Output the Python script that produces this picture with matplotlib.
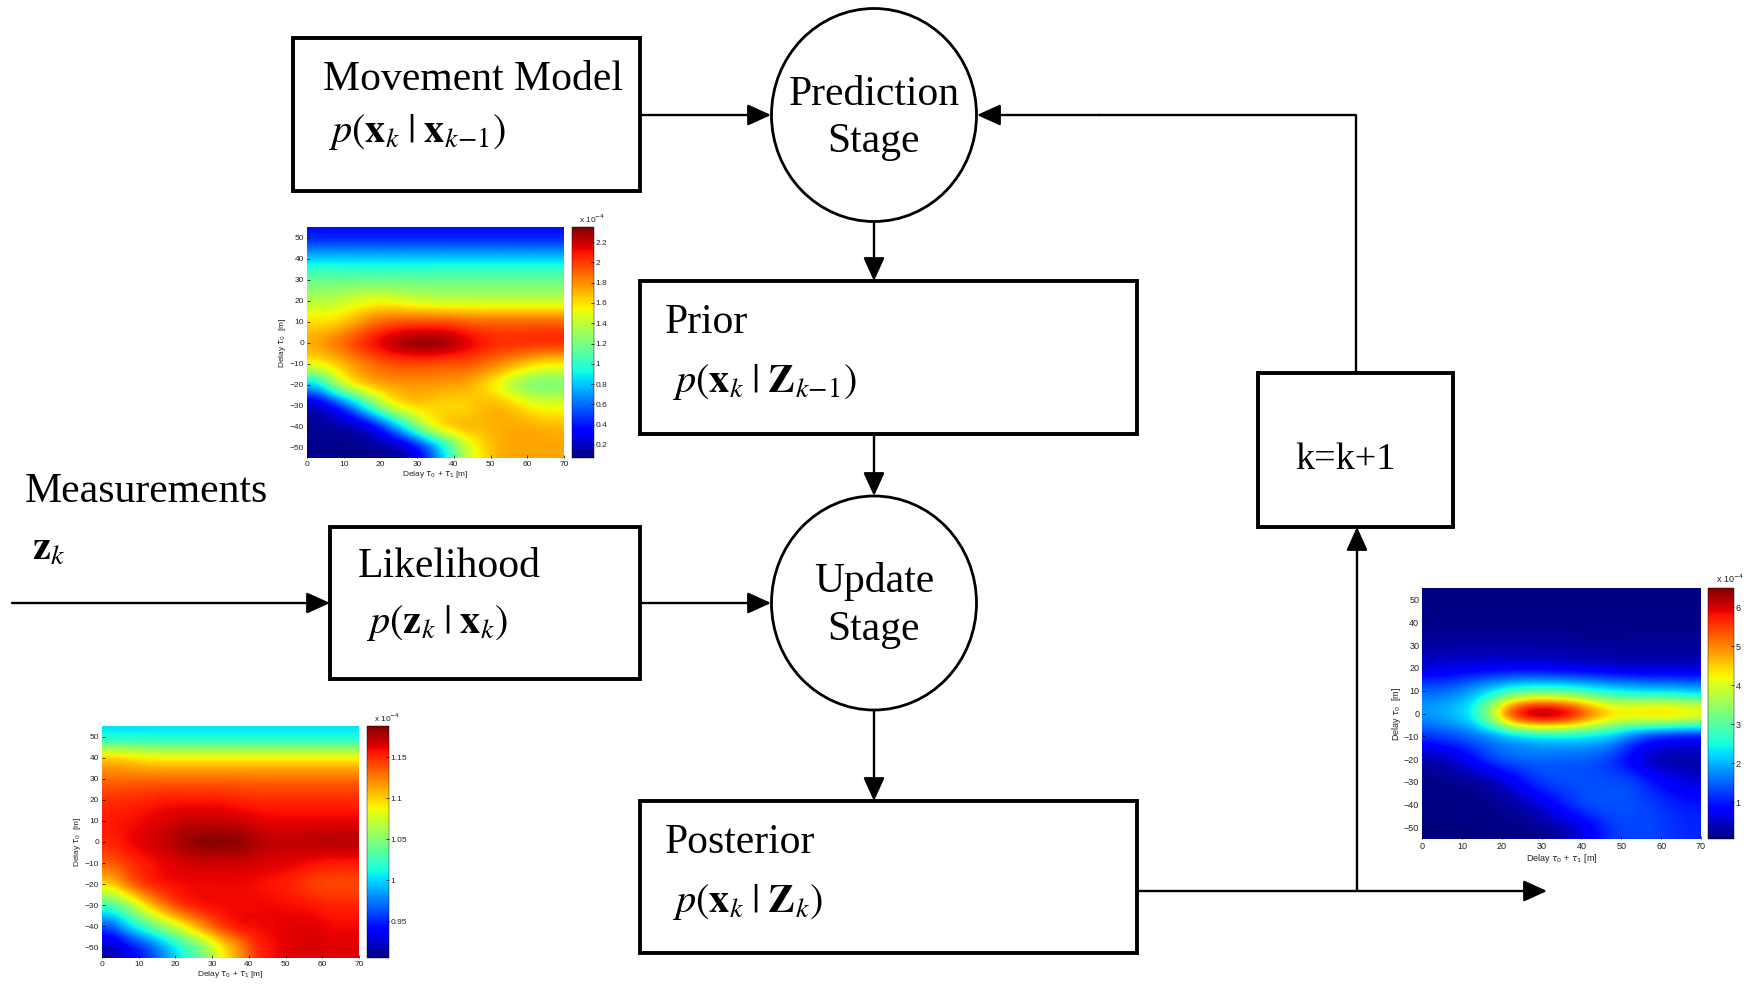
import matplotlib.pyplot as plt
from matplotlib.patches import Rectangle, Ellipse
import numpy as np

plt.rcParams['font.family'] = ['Liberation Serif', 'DejaVu Serif']
plt.rcParams['mathtext.fontset'] = 'stix'

W, H = 1765, 993

# delay maps: cell centres of the coarse grid (values in units of 1e-4)
delay_sum = [2.5, 7.5, 12.5, 17.5, 22.5, 27.5, 32.5, 37.5, 42.5, 47.5, 52.5, 57.5, 62.5, 67.5]
delay_0 = [50, 40, 30, 20, 10, 0, -10, -20, -30, -40, -50]

prior_map = [
    [0.42] * 14,
    [0.82] * 14,
    [1.15] * 14,
    [1.36, 1.38, 1.45, 1.50, 1.50, 1.45, 1.42, 1.40, 1.40, 1.40, 1.40, 1.40, 1.40, 1.40],
    [1.60, 1.62, 1.72, 1.85, 1.92, 1.95, 1.95, 1.95, 1.92, 1.90, 1.90, 1.90, 1.90, 1.90],
    [1.75, 1.85, 1.97, 2.10, 2.22, 2.30, 2.33, 2.30, 2.20, 2.10, 2.05, 2.05, 2.05, 2.05],
    [1.55, 1.65, 1.78, 1.88, 1.95, 1.97, 1.97, 1.95, 1.95, 1.90, 1.82, 1.72, 1.62, 1.58],
    [0.85, 1.25, 1.55, 1.70, 1.76, 1.78, 1.78, 1.76, 1.74, 1.65, 1.50, 1.30, 1.20, 1.20],
    [0.22, 0.40, 0.70, 1.10, 1.45, 1.62, 1.64, 1.62, 1.62, 1.68, 1.70, 1.62, 1.52, 1.50],
    [0.12, 0.13, 0.18, 0.32, 0.62, 1.00, 1.40, 1.62, 1.70, 1.70, 1.72, 1.74, 1.72, 1.70],
    [0.10, 0.10, 0.10, 0.11, 0.14, 0.25, 0.52, 0.92, 1.35, 1.60, 1.72, 1.75, 1.75, 1.75],
]

likelihood_map = [
    [1.010] * 14,
    [1.100, 1.095, 1.090, 1.088, 1.088, 1.088, 1.088, 1.088, 1.088, 1.088, 1.088, 1.088, 1.088, 1.088],
    [1.130] * 14,
    [1.148, 1.150, 1.152, 1.155, 1.155, 1.155, 1.155, 1.152, 1.150, 1.150, 1.150, 1.150, 1.150, 1.150],
    [1.155, 1.158, 1.162, 1.166, 1.170, 1.170, 1.170, 1.168, 1.164, 1.162, 1.162, 1.162, 1.162, 1.162],
    [1.152, 1.160, 1.166, 1.172, 1.180, 1.186, 1.186, 1.184, 1.176, 1.172, 1.172, 1.174, 1.175, 1.175],
    [1.135, 1.148, 1.156, 1.162, 1.166, 1.168, 1.168, 1.168, 1.166, 1.164, 1.162, 1.158, 1.155, 1.155],
    [1.100, 1.130, 1.150, 1.158, 1.160, 1.160, 1.160, 1.160, 1.158, 1.155, 1.150, 1.143, 1.140, 1.140],
    [1.030, 1.060, 1.100, 1.130, 1.150, 1.158, 1.160, 1.160, 1.160, 1.160, 1.158, 1.156, 1.152, 1.152],
    [0.965, 1.000, 1.030, 1.060, 1.090, 1.120, 1.145, 1.158, 1.160, 1.162, 1.164, 1.164, 1.160, 1.160],
    [0.920, 0.940, 0.960, 0.990, 1.020, 1.050, 1.090, 1.120, 1.150, 1.160, 1.164, 1.166, 1.164, 1.164],
]

posterior_map = [
    [0.10] * 14,
    [0.12] * 14,
    [0.25, 0.25, 0.25, 0.25, 0.25, 0.25, 0.25, 0.22, 0.20, 0.20, 0.20, 0.20, 0.20, 0.20],
    [0.60, 0.65, 0.70, 0.75, 0.75, 0.75, 0.70, 0.65, 0.60, 0.55, 0.50, 0.50, 0.50, 0.50],
    [1.50, 1.60, 1.90, 2.30, 2.70, 2.90, 2.90, 2.80, 2.60, 2.40, 2.30, 2.20, 2.20, 2.10],
    [1.90, 2.10, 2.50, 3.80, 5.60, 6.40, 6.45, 6.00, 5.20, 4.60, 4.50, 4.60, 4.60, 4.40],
    [1.20, 1.35, 1.55, 1.80, 2.10, 2.30, 2.40, 2.40, 2.30, 2.10, 1.60, 1.20, 1.05, 1.00],
    [0.35, 0.50, 0.85, 1.25, 1.45, 1.50, 1.50, 1.45, 1.40, 1.20, 0.80, 0.40, 0.30, 0.30],
    [0.12, 0.15, 0.20, 0.35, 0.70, 1.10, 1.30, 1.35, 1.35, 1.35, 1.30, 1.00, 0.75, 0.60],
    [0.10, 0.10, 0.12, 0.15, 0.25, 0.45, 0.80, 1.15, 1.35, 1.40, 1.35, 1.25, 1.10, 1.00],
    [0.08, 0.08, 0.08, 0.10, 0.12, 0.15, 0.25, 0.50, 0.85, 1.20, 1.30, 1.30, 1.20, 1.10],
]

prior_ticks = [0.2, 0.4, 0.6, 0.8, 1.0, 1.2, 1.4, 1.6, 1.8, 2.0, 2.2]
prior_labels = ['0.2', '0.4', '0.6', '0.8', '1', '1.2', '1.4', '1.6', '1.8', '2', '2.2']
likelihood_ticks = [0.95, 1.0, 1.05, 1.1, 1.15]
likelihood_labels = ['0.95', '1', '1.05', '1.1', '1.15']
posterior_ticks = [1, 2, 3, 4, 5, 6]
posterior_labels = ['1', '2', '3', '4', '5', '6']

x_ticks = [0, 10, 20, 30, 40, 50, 60, 70]
y_ticks = [-50, -40, -30, -20, -10, 0, 10, 20, 30, 40, 50]

fig = plt.figure(figsize=(W / 100, H / 100), dpi=100)
ax = fig.add_axes([0, 0, 1, 1])
ax.set_xlim(0, W)
ax.set_ylim(H, 0)
ax.axis('off')

BOX_LW = 2.8
LINE_LW = 1.7
FS = 30


def box(x0, y0, x1, y1):
    ax.add_patch(Rectangle((x0, y0), x1 - x0, y1 - y0, fill=False, lw=BOX_LW, ec='black'))


def circle(cx, cy, w, h):
    ax.add_patch(Ellipse((cx, cy), w, h, fill=False, lw=2.0, ec='black'))


def arrow(p0, p1):
    ax.annotate('', xy=p1, xytext=p0,
                arrowprops=dict(arrowstyle='-|>,head_length=0.55,head_width=0.25',
                                mutation_scale=26, lw=LINE_LW, color='black',
                                shrinkA=0, shrinkB=0))


def label(x, y, s, ha='left', size=FS):
    ax.text(x, y, s, ha=ha, va='baseline', fontsize=size, color='black')


# blocks
box(293, 38, 640, 191)
box(640, 281, 1137, 434)
box(330, 527, 640, 679)
box(640, 801, 1137, 953)
box(1258, 373, 1453, 527)
circle(874, 115, 205, 213)
circle(874, 603, 205, 214)

# connections
arrow((640, 115), (771, 115))
ax.plot([1356, 1356, 1100], [373, 115, 115], color='black', lw=LINE_LW)
arrow((1100, 115), (977, 115))
arrow((874, 222), (874, 281))
arrow((874, 434), (874, 496))
arrow((12, 603), (330, 603))
arrow((640, 603), (771, 603))
arrow((874, 710), (874, 801))
arrow((1137, 891), (1547, 891))
arrow((1357, 891), (1357, 527))

# block text
label(323, 90, 'Movement Model')
label(328, 142, r'$p(\mathbf{x}_k\;|\;\mathbf{x}_{k{-}1})$', size=29)
label(874, 105, 'Prediction', ha='center')
label(874, 152, 'Stage', ha='center')
label(665, 333, 'Prior')
label(672, 392, r'$p(\mathbf{x}_k\;|\;\mathbf{Z}_{k{-}1})$', size=29)
label(874, 592, 'Update', ha='center')
label(874, 640, 'Stage', ha='center')
label(358, 577, 'Likelihood')
label(366, 633, r'$p(\mathbf{z}_k\;|\;\mathbf{x}_k)$', size=29)
label(665, 853, 'Posterior')
label(672, 912, r'$p(\mathbf{x}_k\;|\;\mathbf{Z}_k)$', size=29)
label(25, 502, 'Measurements')
label(32, 560, r'$\mathbf{z}_k$', size=29)
label(1295, 469, 'k=k+1', size=27.5)


def delay_map(values, box_px, cbar_px, vmin, vmax, ticks, tick_labels, fs):
    x0, y0, x1, y1 = box_px
    hax = fig.add_axes([x0 / W, 1 - y1 / H, (x1 - x0) / W, (y1 - y0) / H])
    im = hax.imshow(np.array(values), cmap='jet', vmin=vmin, vmax=vmax,
                    extent=[0, 70, -55, 55], aspect='auto', interpolation='mitchell')
    hax.set_xlim(0, 70)
    hax.set_ylim(-55, 55)
    hax.set_xticks(x_ticks)
    hax.set_yticks(y_ticks)
    hax.tick_params(direction='in', length=2, width=0.5, labelsize=fs, pad=2)
    for t in hax.get_xticklabels() + hax.get_yticklabels():
        t.set_family('Liberation Sans')
        t.set_color('#222222')
    for s in hax.spines.values():
        s.set_visible(False)
    hax.set_xlabel(r'Delay $\tau_0$ + $\tau_1$ [m]', fontsize=fs, family='Liberation Sans',
                   color='#222222', labelpad=1, math_fontfamily='dejavusans')
    hax.set_ylabel(r'Delay $\tau_0$  [m]', fontsize=fs, family='Liberation Sans',
                   color='#222222', labelpad=1, math_fontfamily='dejavusans')

    c0, c1 = cbar_px
    cax = fig.add_axes([c0 / W, 1 - y1 / H, (c1 - c0) / W, (y1 - y0) / H])
    cb = fig.colorbar(im, cax=cax)
    cb.set_ticks(ticks)
    cb.set_ticklabels(tick_labels)
    cb.outline.set_linewidth(0.3)
    cax.tick_params(direction='in', length=2, width=0.5, labelsize=fs, pad=1)
    for t in cax.get_yticklabels():
        t.set_family('Liberation Sans')
        t.set_color('#222222')
    cax.text(0.3, 1.01, r'x 10$^{-4}$', transform=cax.transAxes, ha='left', va='bottom',
             fontsize=fs, family='Liberation Sans', color='#222222',
             math_fontfamily='dejavusans')


delay_map(prior_map, (307, 227, 564, 458), (572, 594), 0.07, 2.35,
          prior_ticks, prior_labels, 6)
delay_map(likelihood_map, (102, 726, 359, 958), (367, 389), 0.905, 1.188,
          likelihood_ticks, likelihood_labels, 6)
delay_map(posterior_map, (1422, 588, 1701, 839), (1708, 1734), 0.06, 6.49,
          posterior_ticks, posterior_labels, 6.5)

fig.savefig('out.png', dpi=100)
